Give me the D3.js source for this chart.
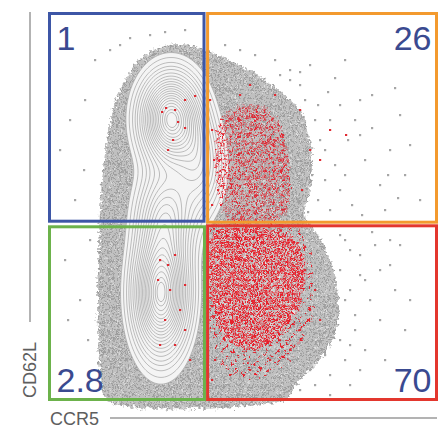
<!DOCTYPE html>
<html><head><meta charset="utf-8">
<script src="https://cdn.jsdelivr.net/npm/d3@7"></script>
<style>body{margin:0;background:#fff}</style>
</head><body><svg id="c" width="440" height="431"></svg>
<script>
// ---------- data (arbitrary fluorescence units, CCR5 on x, CD62L on y) ----------
const quadrantLabels = ["1", "26", "2.8", "70"];
const quadrantColors = ["#3d56a6", "#f39a2e", "#6cb24b", "#e3372e"];
const gateX = 156.8, gateY = 176;
// left (CCR5-) population density modes: cx, cy, sx, sy, weight
const populationModes = [[121, 280, 19, 28, 1.0], [150, 232, 15, 30, 0.35], [111, 105, 17, 38, 1.0], [116, 185, 18, 30, 0.45]];
const contourLevels = [0.06, 0.09, 0.13, 0.17, 0.21, 0.26, 0.31, 0.36, 0.41, 0.46, 0.51, 0.56, 0.61, 0.66, 0.71, 0.76, 0.81, 0.86, 0.91, 0.955, 0.985];
// outline of the dense grey event cloud
const greyCloud = [[59,0],[51,30],[49,70],[48,110],[50,150],[51,190],[54,230],[58,260],[64,290],[73,315],[86,335],[101,348],[121,355],[141,355],[156,350],[176,342],[196,332],[216,320],[236,305],[251,290],[259,270],[263,240],[261,210],[256,185],[269,165],[281,140],[289,110],[289,80],[281,55],[266,35],[251,20],[241,5],[236,0]];
// dense red (antigen-specific) events
const redCore = [[166,168],[191,172],[221,170],[246,160],[256,135],[253,105],[243,80],[226,60],[206,50],[186,55],[171,70],[163,100],[161,135]];
const redHalo = [[162,172],[250,172],[262,140],[265,100],[255,60],[230,30],[200,20],[175,30],[163,60],[160,120]];
const redUpper = [[171,280],[196,295],[221,290],[236,260],[241,220],[236,185],[211,178],[181,178],[169,210],[166,250]];
// sparse events
const greyOutliers = [[251,315],[269,295],[286,322],[306,280],[323,305],[346,312],[299,260],[316,240],[341,250],[361,255],[331,215],[356,225],[291,210],[276,250],[303,195],[336,190],[371,200],[281,280],[311,300],[261,335],[241,330],[226,340],[296,340],[351,285],[263,225],[249,200],
 [296,160],[311,145],[326,155],[341,135],[301,110],[321,100],[346,110],[331,80],[306,70],[296,40],[316,50],[281,25],[266,15],[351,155],[361,100],[336,40],[301,15],[291,130],[311,125],[356,70],
 [11,250],[21,280],[36,300],[26,200],[16,140],[31,100],[39,60],[43,20],[46,340],[61,350],[81,362],[101,365],[116,368],[136,370],[71,355],[41,160],[35,230],[19,80],
 [191,350],[206,345],[176,355],[166,340],
 [256,300],[266,280],[271,260],[261,230],[276,220],[269,200],[286,235],[296,225],[291,295],[279,308],[311,265],[323,272],[339,225],[349,202],[313,185],[259,188],[281,190],[241,320],[231,325],[251,328],
 [291,165],[301,150],[296,100],[286,80],[291,60],[276,45],[261,30],[251,10],[306,85],[316,120],[331,130],[341,160],[323,168],[301,55],[311,30],[281,5]];
const redOutliers = [[117,292],[126,290],[113,288],[129,278],[136,272],[124,260],[119,250],[136,300],[146,304],[111,140],[119,135],[126,145],[109,120],[121,110],[136,115],[131,90],[116,80],[136,70],[126,55],[141,40],[111,55],
 [251,290],[261,250],[271,240],[253,210],[281,270],[297,265],[234,265],[226,305],[201,315],[191,305],
 [256,130],[266,110],[251,70],[241,50],[221,40],[201,30],[181,25],[166,40],[163,20],[271,80],[261,90],
 [161,300],[163,270],[165,240],[169,210],[163,195]];

// ---------- drawing ----------
const svg = d3.select("#c");
const x = d3.scaleLinear().domain([0, 388]).range([49, 437]);
const y = d3.scaleLinear().domain([0, 387]).range([400, 13]);

const defs = svg.append("defs");
const rough = defs.append("filter").attr("id", "rough").attr("x", "-10%").attr("y", "-10%").attr("width", "120%").attr("height", "120%");
rough.append("feTurbulence").attr("type", "fractalNoise").attr("baseFrequency", 0.3).attr("numOctaves", 2).attr("seed", 4).attr("result", "n");
rough.append("feDisplacementMap").attr("in", "SourceGraphic").attr("in2", "n").attr("scale", 9).attr("xChannelSelector", "R").attr("yChannelSelector", "G");

const gp = defs.append("pattern").attr("id", "gp").attr("patternUnits", "userSpaceOnUse").attr("width", 9).attr("height", 9);
gp.append("rect").attr("width", 9).attr("height", 9).attr("fill", "#c0c0c0");
[[0,0],[4,1],[7,3],[2,4],[5,6],[0,7],[8,8],[3,8]].forEach(p => gp.append("rect").attr("x", p[0]).attr("y", p[1]).attr("width", 1.8).attr("height", 1.8).attr("fill", "#9c9c9c"));
[[2,1.5],[6,4.5],[1,6]].forEach(p => gp.append("rect").attr("x", p[0]).attr("y", p[1]).attr("width", 1.3).attr("height", 1.3).attr("fill", "#dedede"));

function redPattern(id, pts, size) {
  const p = defs.append("pattern").attr("id", id).attr("patternUnits", "userSpaceOnUse").attr("width", size).attr("height", size);
  pts.forEach(q => p.append("rect").attr("x", q[0]).attr("y", q[1]).attr("width", 2.3).attr("height", 2).attr("rx", 0.6).attr("fill", "#e61f2a"));
}
redPattern("rpd", [[0,0],[3.5,0.8],[1.6,3.4],[5,3.8],[0.2,5.5],[3.6,5.8]], 7);
redPattern("rpm", [[0,0],[4.5,1.5],[2,4.5],[6,5.5],[0.5,7]], 8.5);
redPattern("rps", [[0,0],[6,4],[2.5,8]], 11);

const line = d3.line().x(d => x(d[0])).y(d => y(d[1])).curve(d3.curveCatmullRomClosed.alpha(0.5));

// grey event cloud
svg.append("g").attr("filter", "url(#rough)")
  .append("path").attr("d", line(greyCloud)).attr("fill", "url(#gp)");

// contour plot of the CCR5- population
const step = 2, nx = 196, ny = 196;
const values = new Float64Array(nx * ny);
for (let j = 0; j < ny; j++) for (let i = 0; i < nx; i++) {
  let v = 0; const dx = i * step, dy = j * step;
  populationModes.forEach(m => { v += m[4] * Math.exp(-0.5 * ((dx - m[0]) / m[2]) ** 2 - 0.5 * ((dy - m[1]) / m[3]) ** 2); });
  values[j * nx + i] = v;
}
const contours = d3.contours().size([nx, ny]).thresholds(contourLevels)(values);
const proj = d3.geoTransform({ point: function (px, py) { this.stream.point(x(px * step), y(py * step)); } });
const gpath = d3.geoPath(proj);
svg.append("path").attr("d", gpath(contours[0])).attr("fill", "#f4f4f4");
svg.append("g").selectAll("path").data(contours).join("path")
  .attr("d", gpath).attr("fill", "none").attr("stroke", "#adadad").attr("stroke-width", 0.8);

// red dense regions
const rg = svg.append("g").attr("filter", "url(#rough)");
rg.append("path").attr("d", line(redHalo)).attr("fill", "url(#rps)");
rg.append("path").attr("d", line(redUpper)).attr("fill", "url(#rpm)");
rg.append("path").attr("d", line(redCore)).attr("fill", "#fff").attr("fill-opacity", 0.25);
rg.append("path").attr("d", line(redCore)).attr("fill", "url(#rpd)");

// sparse events
svg.append("g").selectAll("rect").data(greyOutliers).join("rect")
  .attr("x", d => x(d[0]) - 1).attr("y", d => y(d[1]) - 1).attr("width", 2.2).attr("height", 2.2).attr("fill", "#a6a6a6");
svg.append("g").selectAll("rect").data(redOutliers).join("rect")
  .attr("x", d => x(d[0]) - 1).attr("y", d => y(d[1]) - 1).attr("width", 2.2).attr("height", 2).attr("fill", "#e02a32");

// quadrant gates
const gap = 1.8;
const X0 = x(0) + 0.5, X1 = x(388) - 0.5, Y0 = y(387) + 0.5, Y1 = y(0) - 0.5;
const gx = x(gateX), gy = y(gateY);
const quads = [
  [X0, Y0, gx - gap, gy - gap - 1],
  [gx + gap, Y0, X1, gy - gap],
  [X0, gy + gap + 1, gx - gap + 0.5, Y1],
  [gx + gap, gy + gap, X1, Y1]
];
const order = [1, 3, 2, 0];
order.forEach(i => {
  const q = quads[i];
  svg.append("rect").attr("x", q[0]).attr("y", q[1]).attr("width", q[2] - q[0]).attr("height", q[3] - q[1])
    .attr("fill", "none").attr("stroke", quadrantColors[i]).attr("stroke-width", 3);
});

// quadrant percentages
const lab = svg.append("g").attr("font-family", "Liberation Sans, Arial, sans-serif").attr("font-size", 34).attr("fill", "#3a4a90");
lab.append("text").attr("x", X0 + 7).attr("y", 50).text(quadrantLabels[0]);
lab.append("text").attr("x", X1 - 5).attr("y", 50).attr("text-anchor", "end").text(quadrantLabels[1]);
lab.append("text").attr("x", X0 + 7).attr("y", 392).text(quadrantLabels[2]);
lab.append("text").attr("x", X1 - 5).attr("y", 392).attr("text-anchor", "end").text(quadrantLabels[3]);

// axis labels
svg.append("line").attr("x1", 30).attr("x2", 30).attr("y1", 12).attr("y2", 322).attr("stroke", "#8a8a8a").attr("stroke-width", 1.3);
svg.append("line").attr("x1", 110).attr("x2", 437).attr("y1", 418).attr("y2", 418).attr("stroke", "#9a9a9a").attr("stroke-width", 1.3);
svg.append("text").attr("x", 50).attr("y", 425).attr("font-family", "Liberation Sans, Arial, sans-serif").attr("font-size", 18).attr("fill", "#5e5e5e").text("CCR5");
svg.append("text").attr("transform", "translate(36,398) rotate(-90)").attr("font-family", "Liberation Sans, Arial, sans-serif").attr("font-size", 18).attr("fill", "#5e5e5e").text("CD62L");
</script></body></html>
